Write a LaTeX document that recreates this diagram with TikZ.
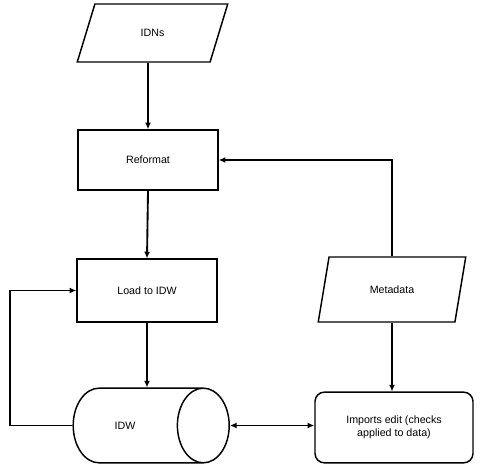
\documentclass[tikz,border=0pt]{standalone}
\usepackage{fontspec}
\setmainfont{Liberation Sans}
\usetikzlibrary{shapes.geometric,arrows.meta}

\tikzset{
    flowline/.style={line width=1.4pt, -{Latex[length=5pt,width=4.5pt]}},
    dataslant/.style={draw, line width=1.1pt, trapezium, trapezium left angle=64, trapezium right angle=116,
        trapezium stretches=true, inner sep=0pt},
    procbox/.style={draw, line width=1.1pt, rectangle, inner sep=0pt},
    store/.style={draw, line width=1.1pt, cylinder, shape aspect=0.7, inner xsep=0pt, inner ysep=25pt},
}

\begin{document}
\begin{tikzpicture}[x=0.75pt, y=-0.75pt, font=\fontsize{8}{9.6}\selectfont]
                \useasboundingbox (0,0) rectangle (482,470);

                \node[dataslant, minimum width=113pt, minimum height=43.5pt] (idns) at (152.5, 33) {IDNs};
                \node[procbox, minimum width=105pt, minimum height=45pt] (reformat) at (148, 160) {Reformat};
                \node[procbox, minimum width=105pt, minimum height=47pt] (load) at (147, 290.5) {Load to IDW};
                \node[store, minimum width=56pt, minimum height=117pt] (idw) at (125, 425.5) {IDW};
                \node[dataslant, minimum width=111pt, minimum height=48.75pt] (metadata) at (392, 289.5) {Metadata};
                \node[procbox, rounded corners=7pt, minimum width=118.5pt, minimum height=53pt, align=center]
                    (imports) at (394, 427.5) {Imports edit (checks\\applied to data)};
                \coordinate (loopcorner) at (10, 425.5);

                \draw[flowline] (reformat.north |- idns.south) -- (reformat.north);
                \draw[flowline] (reformat.south) -- (load.north);
                \draw[flowline] (load.south) -- (load.south |- idw.north);
                \draw[flowline] (idw.west) -- (loopcorner) |- (load.west);
                \draw[flowline] (metadata.north) |- (reformat.east);
                \draw[flowline] (metadata.south) -- (metadata.south |- imports.north);
                \draw[flowline, {Latex[length=5pt,width=4.5pt]}-{Latex[length=5pt,width=4.5pt]}]
                    (idw.east) -- (idw.east -| imports.west);
            \end{tikzpicture}
\end{document}
